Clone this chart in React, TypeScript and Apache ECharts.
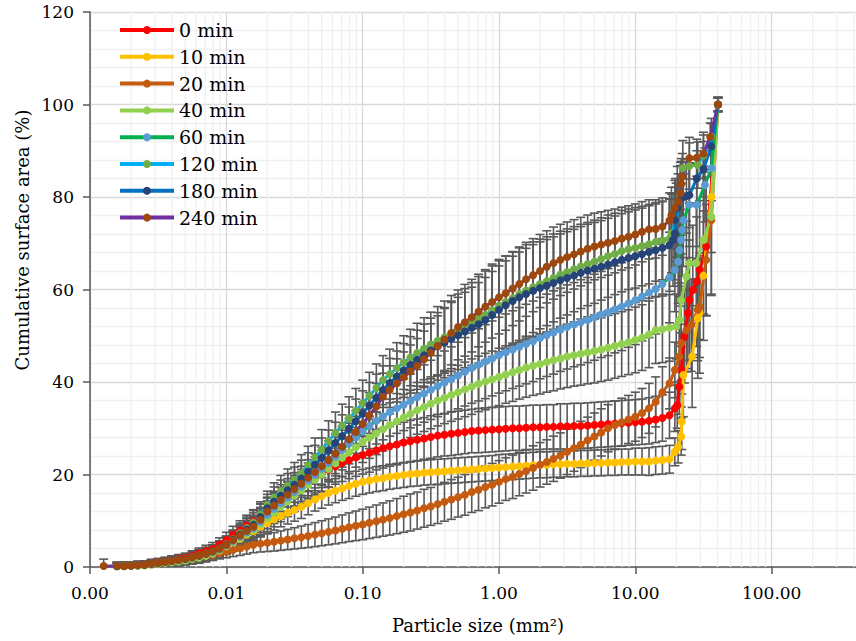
import React, { useEffect, useRef } from 'react';
import * as echarts from 'echarts';

// Particle-size bins (mm²), shared by all series
const XB = [0.00126, 0.00158, 0.00178, 0.002, 0.00224, 0.00251, 0.00282, 0.00316, 0.00355, 0.00398, 0.00447, 0.00501, 0.00562, 0.00631, 0.00708, 0.00794, 0.00891,
  0.01, 0.0112, 0.0126, 0.0141, 0.0158, 0.0178, 0.02, 0.0224, 0.0251, 0.0282, 0.0316, 0.0355, 0.0398, 0.0447, 0.0501, 0.0562, 0.0631, 0.0708, 0.0794, 0.0891,
  0.1, 0.112, 0.126, 0.141, 0.158, 0.178, 0.2, 0.224, 0.251, 0.282, 0.316, 0.355, 0.398, 0.447, 0.501, 0.562, 0.631, 0.708, 0.794, 0.891,
  1, 1.12, 1.26, 1.41, 1.58, 1.78, 2, 2.24, 2.51, 2.82, 3.16, 3.55, 3.98, 4.47, 5.01, 5.62, 6.31, 7.08, 7.94, 8.91,
  10, 11.2, 12.6, 14.1, 15.8, 17.8];

const NAMES = ['0 min', '10 min', '20 min', '40 min', '60 min', '120 min', '180 min', '240 min'];
const LINE_COLORS = ['#FF0000', '#FFC000', '#C55A11', '#92D050', '#00B050', '#00B0F0', '#0070C0', '#7030A0'];
const MARKER_COLORS = ['#FF0000', '#FFC000', '#C55A11', '#92D050', '#5B9BD5', '#70AD47', '#264478', '#9E480E'];

// ---- 0 min
const Y_0 = [null, 0.2, 0.25, 0.3, 0.4, 0.55, 0.75, 1.0, 1.2, 1.4, 1.7, 2.0, 2.4, 2.9, 3.4, 3.9, 4.8,
  5.8, 6.9, 7.9, 8.9, 9.9, 11.0, 12.2, 13.1, 14.1, 15.1, 16.1, 17.1, 18.2, 19.2, 20.1, 21.0, 21.8, 22.5, 23.1, 23.7,
  24.2, 24.7, 25.2, 25.7, 26.1, 26.5, 26.9, 27.2, 27.5, 27.8, 28.1, 28.4, 28.6, 28.8, 29.0, 29.2, 29.4, 29.5, 29.6, 29.7,
  29.8, 29.9, 30.0, 30.0, 30.1, 30.2, 30.2, 30.3, 30.3, 30.4, 30.4, 30.5, 30.5, 30.6, 30.7, 30.8, 30.9, 31.0, 31.1, 31.2,
  31.3, 31.4, 31.6, 31.9, 32.2, 32.8];
const E_0 = [null, 0.6, 0.6, 0.6, 0.7, 0.7, 0.8, 0.8, 0.9, 0.9, 1.0, 1.0, 1.1, 1.2, 1.3, 1.4, 1.5,
  1.7, 1.9, 2.1, 2.3, 2.5, 2.7, 2.9, 3.0, 3.1, 3.2, 3.3, 3.4, 3.5, 3.6, 3.7, 3.8, 3.9, 4.0, 4.0, 4.1,
  4.1, 4.2, 4.2, 4.3, 4.3, 4.4, 4.4, 4.5, 4.5, 4.5, 4.6, 4.6, 4.6, 4.7, 4.7, 4.7, 4.7, 4.8, 4.8, 4.8,
  4.8, 4.8, 4.8, 4.8, 4.8, 4.8, 4.8, 4.8, 4.8, 4.9, 4.9, 4.9, 4.9, 4.9, 4.9, 4.9, 4.9, 4.9, 4.9, 4.9,
  4.9, 4.9, 5.0, 5.0, 5.0, 5.0];
const TX_0 = [19.5, 20.3, 21.0, 21.7, 22.9, 24.3, 24.9, 26.4, 28.2, 29.6, 33.1, 40.4];
const TY_0 = [34.3, 35.0, 39.0, 42.6, 49.8, 54.9, 57.7, 59.9, 61.7, 64.2, 69.3, 100];
const TE_0 = [5, 5, 6, 8, 10, 12, 13, 14, 14, 15, 15, 1.5];

// ---- 10 min
const Y_10 = [null, 0.2, 0.25, 0.3, 0.4, 0.5, 0.7, 0.9, 1.1, 1.3, 1.5, 1.8, 2.1, 2.5, 2.9, 3.3, 3.9,
  4.6, 5.3, 6.1, 7.0, 7.8, 8.7, 9.5, 10.3, 11.0, 11.7, 12.3, 13.0, 13.8, 14.6, 15.3, 16.0, 16.5, 17.0, 17.5, 18.0,
  18.4, 18.7, 19.0, 19.2, 19.5, 19.7, 19.9, 20.1, 20.2, 20.4, 20.5, 20.6, 20.7, 20.8, 20.9, 21.0, 21.1, 21.2, 21.3, 21.4,
  21.5, 21.6, 21.7, 21.8, 21.9, 22.0, 22.1, 22.1, 22.2, 22.2, 22.3, 22.3, 22.4, 22.4, 22.5, 22.5, 22.6, 22.6, 22.7, 22.7,
  22.8, 22.8, 22.8, 23.0, 23.1, 23.3];
const E_10 = [null, 0.6, 0.6, 0.6, 0.7, 0.7, 0.8, 0.8, 0.9, 0.9, 1.0, 1.0, 1.1, 1.2, 1.3, 1.4, 1.5,
  1.6, 1.7, 1.8, 1.9, 2.0, 2.1, 2.2, 2.3, 2.3, 2.4, 2.4, 2.5, 2.5, 2.5, 2.6, 2.6, 2.6, 2.6, 2.7, 2.7,
  2.7, 2.7, 2.7, 2.7, 2.7, 2.7, 2.7, 2.7, 2.7, 2.7, 2.7, 2.7, 2.7, 2.7, 2.7, 2.7, 2.7, 2.7, 2.7, 2.7,
  2.8, 2.8, 2.8, 2.8, 2.8, 2.8, 2.8, 2.8, 2.8, 2.8, 2.8, 2.8, 2.8, 2.8, 2.8, 2.8, 2.8, 2.8, 2.8, 2.8,
  2.9, 2.9, 3.0, 3.0, 3.0, 3.0];
const TX_10 = [19.5, 20.6, 21.7, 21.9, 22.5, 26.1, 28.7, 29.6, 31.6, 36.1, 40.4];
const TY_10 = [24.9, 26.0, 28.2, 31.4, 41.5, 45.5, 53.8, 54.9, 63.0, 80.0, 100];
const TE_10 = [3, 3.5, 4, 6, 9, 11, 13, 13, 14, 12, 1.5];

// ---- 20 min
const Y_20 = [null, 0.2, 0.2, 0.3, 0.35, 0.45, 0.6, 0.8, 0.95, 1.1, 1.3, 1.5, 1.75, 2.0, 2.3, 2.6, 2.95,
  3.3, 3.65, 4.0, 4.4, 4.8, 5.05, 5.25, 5.45, 5.7, 5.95, 6.2, 6.45, 6.7, 7.0, 7.3, 7.6, 7.9, 8.25, 8.6, 8.9,
  9.2, 9.55, 9.9, 10.25, 10.6, 11.0, 11.4, 11.8, 12.2, 12.7, 13.1, 13.6, 14.1, 14.6, 15.1, 15.6, 16.2, 16.7, 17.3, 17.8,
  18.4, 19.0, 19.5, 20.1, 20.7, 21.4, 22.1, 22.7, 23.4, 24.1, 24.9, 25.7, 26.5, 27.4, 28.2, 29.1, 30.0, 30.7, 31.3, 31.9,
  32.5, 33.3, 34.3, 35.7, 37.8, 39.7];
const E_20 = [null, 0.6, 0.6, 0.6, 0.7, 0.7, 0.7, 0.8, 0.8, 0.8, 0.9, 0.9, 1.0, 1.0, 1.1, 1.2, 1.2,
  1.3, 1.4, 1.5, 1.6, 1.7, 1.8, 1.9, 2.0, 2.1, 2.2, 2.3, 2.4, 2.5, 2.6, 2.7, 2.8, 2.9, 3.0, 3.1, 3.2,
  3.3, 3.4, 3.5, 3.6, 3.7, 3.8, 3.9, 4.0, 4.0, 4.1, 4.1, 4.2, 4.2, 4.3, 4.3, 4.4, 4.4, 4.5, 4.5, 4.6,
  4.6, 4.6, 4.7, 4.7, 4.7, 4.8, 4.8, 4.8, 4.9, 4.9, 4.9, 5.0, 5.0, 5.0, 5.1, 5.1, 5.1, 5.2, 5.2, 5.2,
  5.3, 5.3, 5.4, 5.4, 5.5, 5.5];
const TX_20 = [19.5, 21.0, 21.7, 23.7, 25.7, 28.7, 29.6, 33.1, 36.1, 40.4];
const TY_20 = [42.6, 45.5, 48.4, 51.2, 52.3, 55.6, 56.3, 66.4, 75.0, 100];
const TE_20 = [6, 7, 8, 9, 10, 11, 11, 12, 16, 1.5];

// ---- 40 min
const Y_40 = [null, 0.1, 0.15, 0.2, 0.25, 0.35, 0.5, 0.7, 0.85, 1.0, 1.2, 1.4, 1.7, 2.0, 2.4, 2.9, 3.6,
  4.5, 5.4, 6.3, 7.2, 8.1, 9.3, 10.6, 11.8, 13.0, 14.2, 15.4, 16.6, 17.8, 18.9, 20.0, 21.2, 22.4, 23.6, 24.8, 25.9,
  27.0, 28.0, 28.9, 29.8, 30.7, 31.5, 32.3, 33.1, 33.9, 34.6, 35.3, 36.0, 36.6, 37.2, 37.8, 38.4, 39.0, 39.6, 40.1, 40.6,
  41.1, 41.6, 42.1, 42.6, 43.1, 43.5, 43.9, 44.3, 44.7, 45.1, 45.5, 45.8, 46.1, 46.4, 46.7, 47.0, 47.4, 47.8, 48.2, 48.6,
  49.1, 49.6, 50.3, 51.2, 51.4, 51.7];
const E_40 = [null, 0.8, 0.8, 0.8, 0.8, 0.8, 0.9, 0.9, 0.9, 1.0, 1.0, 1.0, 1.1, 1.2, 1.3, 1.4, 1.6,
  1.8, 2.0, 2.2, 2.4, 2.6, 2.8, 3.0, 3.1, 3.2, 3.3, 3.4, 3.5, 3.6, 3.7, 3.8, 3.9, 4.0, 4.1, 4.2, 4.3,
  4.4, 4.5, 4.6, 4.7, 4.8, 4.9, 5.0, 5.1, 5.2, 5.3, 5.4, 5.5, 5.6, 5.7, 5.8, 5.9, 6.0, 6.0, 6.1, 6.1,
  6.2, 6.2, 6.3, 6.3, 6.4, 6.4, 6.5, 6.5, 6.6, 6.6, 6.7, 6.7, 6.8, 6.8, 6.9, 6.9, 7.0, 7.0, 7.0, 7.0,
  7.1, 7.1, 7.2, 7.2, 7.2, 7.2];
const TX_40 = [19.95, 21.1, 21.7, 23.7, 24.9, 28.0, 31.6, 36.1, 40.4];
const TY_40 = [52.0, 53.4, 57.7, 62.8, 65.7, 65.7, 70.7, 75.7, 100];
const TE_40 = [7, 8, 10, 12, 13, 13, 16, 17, 1.5];

// ---- 60 min
const Y_60 = [null, 0.2, 0.25, 0.3, 0.4, 0.5, 0.7, 0.9, 1.1, 1.3, 1.5, 1.7, 2.0, 2.4, 2.8, 3.2, 3.9,
  4.7, 5.6, 6.6, 7.5, 8.4, 9.8, 11.3, 12.6, 13.8, 15.0, 16.2, 17.4, 18.7, 19.9, 21.2, 22.5, 23.9, 25.3, 26.7, 28.0,
  29.3, 30.5, 31.6, 32.6, 33.5, 34.3, 35.1, 35.9, 36.7, 37.5, 38.3, 39.1, 39.9, 40.6, 41.4, 42.2, 43.0, 43.7, 44.4, 45.1,
  45.8, 46.4, 47.0, 47.6, 48.2, 48.8, 49.5, 50.1, 50.7, 51.3, 51.9, 52.4, 52.9, 53.4, 54.0, 54.6, 55.1, 55.7, 56.3, 57.0,
  57.7, 58.5, 59.3, 60.1, 61.2, 62.6];
const E_60 = [null, 0.8, 0.8, 0.8, 0.8, 0.8, 0.9, 0.9, 0.9, 1.0, 1.0, 1.0, 1.1, 1.2, 1.3, 1.4, 1.6,
  1.8, 2.0, 2.2, 2.4, 2.6, 2.8, 3.0, 3.2, 3.4, 3.5, 3.6, 3.7, 3.8, 3.9, 4.0, 4.1, 4.2, 4.3, 4.4, 4.6,
  4.8, 4.9, 5.0, 5.1, 5.2, 5.4, 5.6, 5.8, 6.0, 6.2, 6.4, 6.6, 6.8, 7.0, 7.2, 7.4, 7.6, 7.8, 8.0, 8.1,
  8.2, 8.3, 8.4, 8.5, 8.6, 8.7, 8.8, 8.9, 9.0, 9.0, 9.1, 9.1, 9.2, 9.2, 9.3, 9.3, 9.4, 9.4, 9.5, 9.5,
  9.6, 9.6, 9.7, 9.7, 9.8, 9.8];
const TX_60 = [19.5, 20.6, 21.1, 21.7, 22.1, 22.5, 24.9, 28.2, 32.4, 36.1, 40.4];
const TY_60 = [64.2, 66.0, 68.5, 70.7, 72.9, 75.0, 78.3, 78.3, 82.6, 86.2, 100];
const TE_60 = [9, 9, 10, 10, 10, 10, 9, 9, 8, 7, 1.5];

// ---- 120 min
const Y_120 = [null, 0.2, 0.25, 0.3, 0.4, 0.5, 0.7, 0.9, 1.1, 1.3, 1.5, 1.7, 2.0, 2.4, 2.8, 3.3, 4.0,
  4.9, 6.0, 7.3, 8.4, 9.6, 11.3, 13.4, 15.0, 16.4, 17.6, 18.8, 20.3, 22.0, 23.7, 25.4, 27.2, 29.0, 30.6, 32.1, 33.8,
  35.4, 37.0, 38.7, 40.4, 41.7, 43.0, 44.2, 45.3, 46.3, 47.2, 48.1, 48.9, 49.7, 50.5, 51.3, 52.1, 52.9, 53.7, 54.5, 55.5,
  56.5, 57.3, 58.1, 59.0, 59.8, 60.5, 61.2, 61.8, 62.5, 63.2, 63.8, 64.4, 65.0, 65.5, 66.0, 66.6, 67.2, 67.7, 68.3, 68.7,
  69.0, 69.4, 69.8, 70.3, 70.6, 71.0];
const E_120 = [null, 0.8, 0.8, 0.8, 0.8, 0.8, 0.9, 0.9, 0.9, 1.0, 1.0, 1.0, 1.1, 1.2, 1.3, 1.4, 1.6,
  1.8, 2.0, 2.2, 2.4, 2.6, 2.8, 3.0, 3.2, 3.4, 3.6, 3.8, 4.0, 4.1, 4.2, 4.3, 4.4, 4.5, 4.6, 4.7, 4.8,
  5.0, 5.1, 5.2, 5.3, 5.4, 5.5, 5.8, 6.1, 6.4, 6.7, 7.0, 7.4, 7.8, 8.2, 8.6, 9.0, 9.3, 9.6, 9.8, 10.0,
  10.0, 10.0, 10.0, 10.0, 9.9, 9.8, 9.7, 9.6, 9.5, 9.4, 9.3, 9.2, 9.1, 9.0, 9.0, 8.9, 8.9, 8.8, 8.8, 8.7,
  8.7, 8.6, 8.6, 8.5, 8.5, 8.5];
const TX_120 = [18.4, 19.95, 21.4, 22.3, 24.9, 28.7, 31.6, 36.1, 40.4];
const TY_120 = [72.1, 75.0, 80.5, 86.2, 86.7, 86.9, 89.0, 93.0, 100];
const TE_120 = [8.5, 8, 7, 6, 5, 5, 5, 4, 1.5];

// ---- 180 min
const Y_180 = [null, 0.2, 0.2, 0.3, 0.4, 0.5, 0.7, 0.9, 1.1, 1.3, 1.5, 1.8, 2.1, 2.5, 2.9, 3.4, 4.0,
  4.8, 5.9, 7.0, 8.1, 9.1, 10.8, 12.7, 14.1, 15.4, 16.6, 17.8, 19.1, 20.6, 22.1, 23.6, 25.2, 26.8, 28.3, 29.9, 31.5,
  33.2, 34.9, 36.6, 38.3, 39.8, 41.2, 42.5, 43.7, 44.8, 45.8, 46.8, 47.7, 48.5, 49.3, 50.1, 50.9, 51.7, 52.5, 53.4, 54.5,
  55.6, 56.6, 57.5, 58.3, 59.0, 59.7, 60.3, 60.8, 61.4, 62.0, 62.5, 63.0, 63.6, 64.1, 64.5, 64.9, 65.4, 65.9, 66.4, 66.8,
  67.2, 67.6, 68.1, 68.5, 69.0, 69.6];
const E_180 = [null, 0.8, 0.8, 0.8, 0.8, 0.8, 0.9, 0.9, 0.9, 1.0, 1.0, 1.0, 1.1, 1.2, 1.3, 1.4, 1.6,
  1.8, 2.0, 2.2, 2.4, 2.6, 2.8, 3.0, 3.2, 3.4, 3.6, 3.8, 4.0, 4.1, 4.2, 4.3, 4.4, 4.5, 4.6, 4.7, 4.8,
  4.9, 5.0, 5.1, 5.2, 5.3, 5.5, 5.8, 6.1, 6.4, 6.7, 7.0, 7.3, 7.6, 7.9, 8.2, 8.5, 8.8, 9.0, 9.2, 9.4,
  9.5, 9.6, 9.7, 9.8, 9.9, 10, 10, 10, 10, 10, 10, 10, 10, 10, 10, 10, 10, 10, 10, 10,
  10, 10, 10, 10, 10, 10];
const TX_180 = [18.9, 19.5, 19.7, 20.3, 21.7, 23.7, 24.9, 28.2, 31.6, 36.1, 40.4];
const TY_180 = [70.7, 72.1, 75.0, 77.6, 79.7, 80.2, 80.4, 84.0, 86.0, 90.9, 100];
const TE_180 = [10, 10, 9, 9, 8, 8, 7, 6, 6, 5, 1.5];

// ---- 240 min
const Y_240 = [0.2, 0.2, 0.2, 0.3, 0.4, 0.5, 0.7, 0.9, 1.1, 1.3, 1.5, 1.8, 2.1, 2.5, 2.9, 3.4, 4.0,
  4.8, 5.8, 6.8, 7.8, 8.7, 10.2, 12.0, 13.3, 14.5, 15.6, 16.8, 18.0, 19.3, 20.5, 21.8, 23.1, 24.5, 26.0, 27.6, 29.2,
  30.9, 32.8, 34.7, 36.8, 38.3, 39.7, 41.0, 42.3, 43.5, 44.9, 46.3, 47.8, 49.2, 50.6, 51.9, 52.9, 54.0, 55.2, 56.3, 57.3,
  58.3, 59.2, 60.2, 61.2, 62.2, 63.1, 64.0, 64.9, 65.7, 66.4, 67.0, 67.6, 68.2, 68.8, 69.3, 69.7, 70.1, 70.5, 71.0, 71.4,
  71.9, 72.5, 73.0, 73.1, 73.6, 74.9];
const E_240 = [1.5, 0.8, 0.8, 0.8, 0.8, 0.8, 0.9, 0.9, 0.9, 1.0, 1.0, 1.0, 1.1, 1.2, 1.3, 1.4, 1.6,
  1.8, 1.9, 2.1, 2.3, 2.5, 2.7, 2.9, 3.1, 3.3, 3.5, 3.6, 3.8, 3.9, 4.0, 4.1, 4.2, 4.3, 4.4, 4.5, 4.6,
  4.8, 4.9, 5.0, 5.1, 5.2, 5.3, 5.5, 5.7, 5.9, 6.1, 6.3, 6.5, 6.7, 6.9, 7.1, 7.3, 7.5, 7.6, 7.7, 7.8,
  7.9, 8.0, 8.0, 8.0, 8.0, 7.9, 7.9, 7.8, 7.8, 7.7, 7.6, 7.5, 7.4, 7.3, 7.2, 7.1, 7.0, 6.9, 6.8, 6.7,
  6.6, 6.5, 6.4, 6.3, 6.2, 6.0];
const TX_240 = [18.4, 19.5, 20.6, 21.4, 21.7, 22.1, 24.9, 28.2, 31.6, 35.4, 40.4];
const TY_240 = [76.1, 77.6, 79.0, 80.8, 82.8, 84.4, 88.4, 88.5, 89.4, 93.0, 100];
const TE_240 = [6, 6, 6, 6, 5.5, 5, 4.5, 4, 4, 3, 1.5];

const SERIES_Y = [Y_0, Y_10, Y_20, Y_40, Y_60, Y_120, Y_180, Y_240];
const SERIES_E = [E_0, E_10, E_20, E_40, E_60, E_120, E_180, E_240];
const TAIL_X = [TX_0, TX_10, TX_20, TX_40, TX_60, TX_120, TX_180, TX_240];
const TAIL_Y = [TY_0, TY_10, TY_20, TY_40, TY_60, TY_120, TY_180, TY_240];
const TAIL_E = [TE_0, TE_10, TE_20, TE_40, TE_60, TE_120, TE_180, TE_240];

const FONT = '"DejaVu Serif", serif';

function buildPoints(k: number) {
  const pts: number[][] = [];
  const ys = SERIES_Y[k];
  const es = SERIES_E[k];
  XB.forEach((x, i) => {
    const y = ys[i];
    if (y === null || y === undefined) return;
    pts.push([x, y as number, (es[i] as number) || 0]);
  });
  TAIL_X[k].forEach((x, i) => pts.push([x, TAIL_Y[k][i], TAIL_E[k][i]]));
  return pts;
}

export default function App() {
  const ref = useRef<HTMLDivElement>(null);
  useEffect(() => {
    if (!ref.current) return;
    const chart = echarts.init(ref.current, undefined, { renderer: 'svg' });

    const minorX: number[][] = [];
    for (let d = -3; d <= 2; d++) {
      for (let m = 2; m <= 9; m++) minorX.push([m * Math.pow(10, d), 0]);
    }

    const errStyle = { stroke: '#595959', lineWidth: 1.6 };
    const series: any[] = [];
    series.push({
      type: 'custom',
      silent: true,
      z: 1,
      clip: true,
      data: minorX,
      encode: { x: 0, y: 1 },
      renderItem: (_p: any, api: any) => {
        const a = api.coord([api.value(0), 0]);
        const b = api.coord([api.value(0), 120]);
        return { type: 'line', shape: { x1: a[0], y1: a[1], x2: b[0], y2: b[1] }, style: { stroke: '#F0F0F0', lineWidth: 1.3 } };
      },
    });

    for (let k = 0; k < NAMES.length; k++) {
      const pts = buildPoints(k);
      series.push({
        type: 'custom',
        silent: true,
        z: 2,
        clip: true,
        data: pts.map((p) => [p[0], p[1] - p[2], p[1] + p[2]]),
        encode: { x: 0, y: [1, 2] },
        renderItem: (_p: any, api: any) => {
          const x = api.value(0);
          const lo = api.coord([x, api.value(1)]);
          const hi = api.coord([x, api.value(2)]);
          const w = 4.5;
          return {
            type: 'group',
            children: [
              { type: 'line', shape: { x1: lo[0], y1: lo[1], x2: hi[0], y2: hi[1] }, style: errStyle },
              { type: 'line', shape: { x1: lo[0] - w, y1: lo[1], x2: lo[0] + w, y2: lo[1] }, style: errStyle },
              { type: 'line', shape: { x1: hi[0] - w, y1: hi[1], x2: hi[0] + w, y2: hi[1] }, style: errStyle },
            ],
          };
        },
      });
    }

    for (let k = 0; k < NAMES.length; k++) {
      const pts = buildPoints(k);
      series.push({
        type: 'line',
        name: NAMES[k],
        z: 3,
        silent: true,
        data: pts.map((p) => [p[0], p[1]]),
        symbol: 'circle',
        symbolSize: 8,
        showAllSymbol: true,
        lineStyle: { color: LINE_COLORS[k], width: 3 },
        itemStyle: { color: MARKER_COLORS[k] },
        emphasis: { disabled: true },
      });
    }

    chart.setOption({
      animation: false,
      backgroundColor: '#ffffff',
      grid: { left: 90, top: 12, width: 818, height: 555, containLabel: false, outerBoundsMode: 'none' },
      xAxis: {
        type: 'log',
        logBase: 10,
        min: 0.001,
        max: 1000,
        axisLine: { show: true, onZero: false, lineStyle: { color: '#595959', width: 1.5 } },
        axisTick: { show: true, length: 7, lineStyle: { color: '#595959', width: 1.5 } },
        axisLabel: {
          formatter: (v: number) => (v > 500 ? '' : v.toFixed(2)),
          fontFamily: FONT,
          fontSize: 17,
          color: '#000',
          margin: 17,
        },
        splitLine: { show: true, lineStyle: { color: '#D9D9D9', width: 1.3 } },
      },
      yAxis: {
        type: 'value',
        min: 0,
        max: 120,
        interval: 20,
        axisLine: { show: true, lineStyle: { color: '#595959', width: 1.5 } },
        axisTick: { show: true, length: 7, lineStyle: { color: '#595959', width: 1.5 } },
        axisLabel: { fontFamily: FONT, fontSize: 17, color: '#000', margin: 16 },
        splitLine: { show: true, lineStyle: { color: '#D9D9D9', width: 1.3 } },
        minorTick: { show: false, splitNumber: 5 },
        minorSplitLine: { show: true, lineStyle: { color: '#F0F0F0', width: 1.3 } },
      },
      legend: {
        data: NAMES,
        orient: 'vertical',
        left: 118,
        top: 20.5,
        padding: 0,
        itemWidth: 54,
        itemHeight: 10,
        itemGap: 7.8,
        lineStyle: { width: 4 },
        textStyle: { fontFamily: FONT, fontSize: 19, color: '#000' },
        selectedMode: false,
      },
      graphic: [
        {
          type: 'text',
          x: 22,
          y: 240,
          rotation: Math.PI / 2,
          style: {
            text: 'Cumulative surface area (%)',
            font: '18px "DejaVu Serif", serif',
            fill: '#000',
            align: 'center',
            verticalAlign: 'middle',
            textAlign: 'center',
            textVerticalAlign: 'middle',
          },
        },
        {
          type: 'text',
          x: 478,
          y: 625,
          style: {
            text: 'Particle size (mm²)',
            font: '18px "DejaVu Serif", serif',
            fill: '#000',
            align: 'center',
            verticalAlign: 'middle',
            textAlign: 'center',
            textVerticalAlign: 'middle',
          },
        },
      ],
      series,
    });

    return () => chart.dispose();
  }, []);

  return (
    <div
      ref={ref}
      style={{ position: 'fixed', left: 0, top: 0, width: 856, height: 641, background: '#fff' }}
    />
  );
}
